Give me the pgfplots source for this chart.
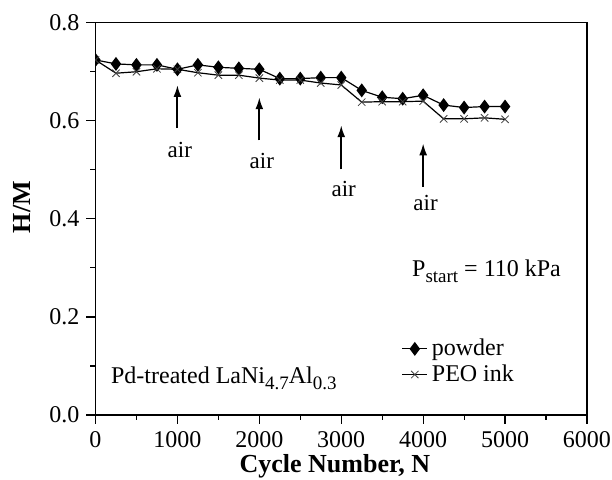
\documentclass[border=0pt]{standalone}
\usepackage{fontspec}
\setmainfont{Liberation Serif}
\usepackage{pgfplots}
\pgfplotsset{compat=1.18}
\usetikzlibrary{arrows.meta}
\begin{document}
\begin{tikzpicture}
\path[use as bounding box] (-47.75pt,-32.5pt) rectangle (258.25pt,207.5pt);
\begin{axis}[
  scale only axis,
  width=245.75pt, height=196.15pt,
  xmin=0, xmax=6000, ymin=0, ymax=0.8,
  xtick={0,1000,...,6000},
  minor xtick={500,1500,...,5500},
  ytick={0,0.2,...,0.8},
  minor ytick={0.1,0.3,0.5,0.7},
  tick pos=left, tick align=outside,
  major tick length=4.5pt, minor tick length=2.5pt,
  every tick/.style={black, line width=0.6pt},
  axis line style={line width=0.7pt},
  clip marker paths=true,
  /pgf/number format/assume math mode=true,
  /pgf/number format/1000 sep={},
  yticklabel style={/pgf/number format/fixed, /pgf/number format/fixed zerofill, /pgf/number format/precision=1},
  tick label style={font=\fontsize{12}{14}\selectfont},
  xlabel={\textbf{Cycle Number, N}},
  ylabel={\textbf{H/M}},
  label style={font=\fontsize{13}{15}\selectfont},
  xlabel style={at={(axis description cs:0.487,-0.13)}, anchor=center},
  ylabel style={at={(axis description cs:-0.15,0.53)}, anchor=center},
  legend style={draw=none, fill=none, font=\fontsize{12}{14}\selectfont,
    at={(axis cs:3660,0.172)}, anchor=north west, row sep=-1pt,
    nodes={inner sep=2pt}},
  legend cell align=left,
  legend image code/.code={\draw[mark repeat=2,mark phase=2,#1] plot coordinates {(0pt,0pt) (6.25pt,0pt) (12.5pt,0pt)};},
]
\addplot[black, line width=0.6pt, mark=diamond*, mark size=3pt, mark options={solid, fill=black}]
coordinates {
(0,0.724) (250,0.716) (500,0.714) (750,0.714) (1000,0.705) (1250,0.714) (1500,0.709)
(1750,0.707) (2000,0.705) (2250,0.686) (2500,0.686) (2750,0.688) (3000,0.688)
(3250,0.662) (3500,0.648) (3750,0.645) (4000,0.652) (4250,0.632) (4500,0.627)
(4750,0.629) (5000,0.629)
};
\addlegendentry{powder}
\addplot[black, line width=0.6pt, mark=x, mark size=2.6pt, mark options={solid, black!75, line width=0.4pt}]
coordinates {
(0,0.724) (250,0.697) (500,0.700) (750,0.706) (1000,0.705) (1250,0.698) (1500,0.693)
(1750,0.693) (2000,0.687) (2250,0.683) (2500,0.683) (2750,0.677) (3000,0.673)
(3250,0.638) (3500,0.639) (3750,0.639) (4000,0.640) (4250,0.604) (4500,0.604)
(4750,0.606) (5000,0.603)
};
\addlegendentry{PEO ink}
\draw[line width=1pt, -{Latex[length=6pt,width=4pt]}] (axis cs:1000,0.585) -- (axis cs:1000,0.673);
\draw[line width=1pt, -{Latex[length=6pt,width=4pt]}] (axis cs:2000,0.560) -- (axis cs:2000,0.648);
\draw[line width=1pt, -{Latex[length=6pt,width=4pt]}] (axis cs:3000,0.501) -- (axis cs:3000,0.591);
\draw[line width=1pt, -{Latex[length=6pt,width=4pt]}] (axis cs:4000,0.465) -- (axis cs:4000,0.554);
\node[font=\fontsize{11.5}{13}\selectfont] at (axis cs:1030,0.540) {air};
\node[font=\fontsize{11.5}{13}\selectfont] at (axis cs:2030,0.517) {air};
\node[font=\fontsize{11.5}{13}\selectfont] at (axis cs:3030,0.460) {air};
\node[font=\fontsize{11.5}{13}\selectfont] at (axis cs:4030,0.432) {air};
\node[anchor=base west, inner sep=0pt, font=\fontsize{12}{14}\selectfont] at (axis cs:3861,0.282)
  {P\raisebox{-0.55ex}{\fontsize{9.5}{10}\selectfont start} = 110 kPa};
\node[anchor=base west, inner sep=0pt, font=\fontsize{12}{14}\selectfont] at (axis cs:186,0.065)
  {Pd-treated LaNi\raisebox{-0.55ex}{\fontsize{9.5}{10}\selectfont 4.7}Al\raisebox{-0.55ex}{\fontsize{9.5}{10}\selectfont 0.3}};
\end{axis}
\end{tikzpicture}
\end{document}
